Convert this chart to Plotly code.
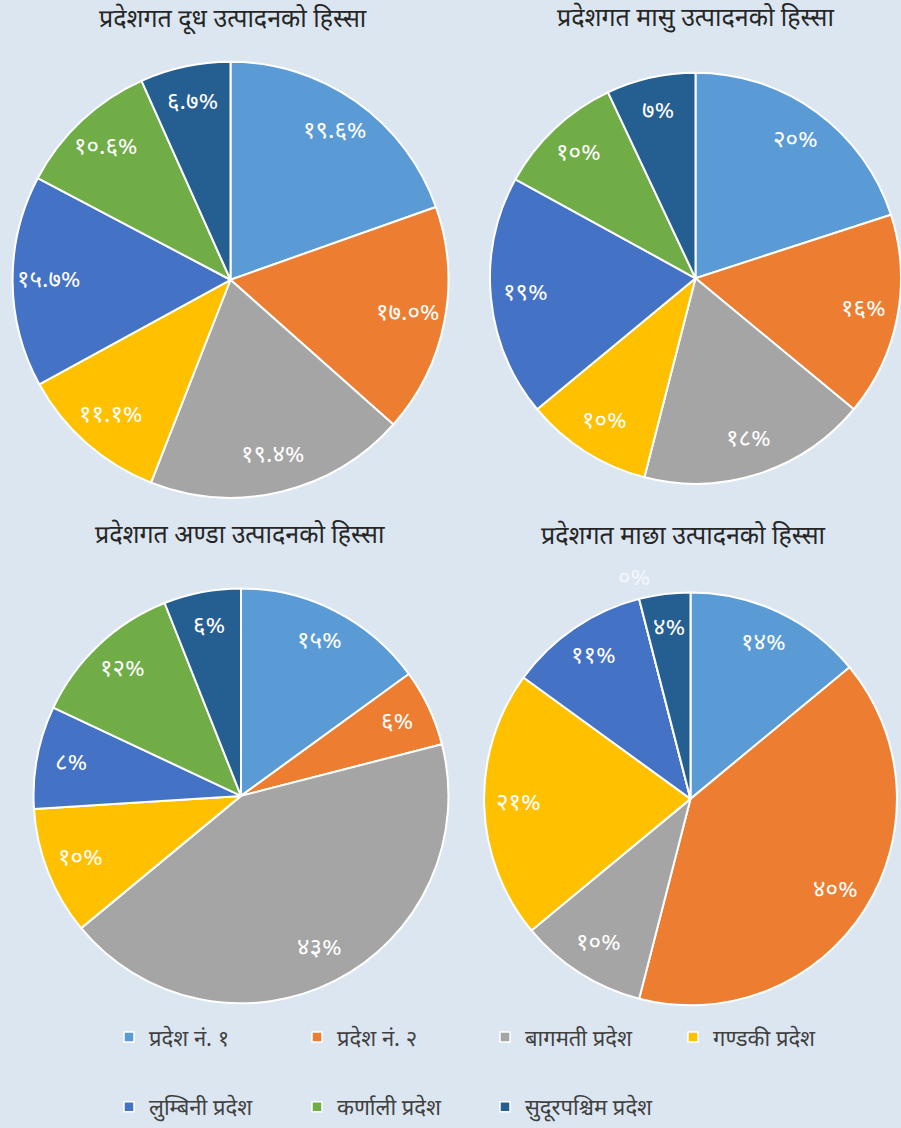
import math
import plotly.graph_objects as go

W, H = 901, 1128
BG = "#dce6f1"

regions = ["प्रदेश नं. १", "प्रदेश नं. २", "बागमती प्रदेश", "गण्डकी प्रदेश",
           "लुम्बिनी प्रदेश", "कर्णाली प्रदेश", "सुदूरपश्चिम प्रदेश"]
colors = ["#5b9bd5", "#ed7d31", "#a5a5a5", "#ffc000", "#4472c4", "#70ad47", "#255e91"]

titles = ["प्रदेशगत दूध उत्पादनको हिस्सा", "प्रदेशगत मासु उत्पादनको हिस्सा",
          "प्रदेशगत अण्डा उत्पादनको हिस्सा", "प्रदेशगत माछा उत्पादनको हिस्सा"]
milk = [19.6, 17.0, 19.4, 11.1, 15.7, 10.6, 6.7]
meat = [20, 16, 18, 10, 19, 10, 7]
egg = [15, 6, 43, 10, 8, 12, 6]
fish = [14, 40, 10, 21, 11, 0, 4]
decimals = [1, 0, 0, 0]

DEV = str.maketrans("0123456789", "०१२३४५६७८९")

def dev_label(v, d):
    return f"{v:.{d}f}%".translate(DEV)

FONT = "Noto Sans Devanagari, Noto Sans, sans-serif"

# pie boxes in pixels: (x0, x1, y0, y1)
boxes = [(12, 449, 62, 499), (490, 901, 70, 488), (33, 449, 590, 1006), (483, 898, 594, 1008)]
title_pos = [(233, 20), (695, 19), (240, 537), (683, 538)]
LABEL_R = 0.83
ZERO_R = 1.1

fig = go.Figure()
for i, vals in enumerate([milk, meat, egg, fish]):
    x0, x1, y0, y1 = boxes[i]
    fig.add_trace(go.Pie(
        labels=regions, values=vals, sort=False, direction="clockwise", rotation=0,
        marker=dict(colors=colors, line=dict(color="white", width=2)),
        textinfo="none",
        domain=dict(x=[x0 / W, x1 / W], y=[1 - y1 / H, 1 - y0 / H]),
        showlegend=False, hoverinfo="label+value",
    ))
    # data labels along each slice bisector (Excel-like placement)
    cx, cy = (x0 + x1) / 2, (y0 + y1) / 2
    r = min(x1 - x0, y1 - y0) / 2
    total = sum(vals)
    cum = 0.0
    for v in vals:
        theta = 2 * math.pi * (cum + v / 2) / total
        k = ZERO_R if v == 0 else LABEL_R
        px = cx + k * r * math.sin(theta)
        py = cy - k * r * math.cos(theta)
        fig.add_annotation(text=dev_label(v, decimals[i]), x=px / W, y=1 - py / H,
                           xref="paper", yref="paper", showarrow=False,
                           xanchor="center", yanchor="middle",
                           font=dict(size=24, color="white" if v else "#f4f6fa", family=FONT))
        cum += v
    tx, ty = title_pos[i]
    fig.add_annotation(text=titles[i], x=tx / W, y=1 - ty / H, xref="paper", yref="paper",
                       showarrow=False, xanchor="center", yanchor="middle",
                       font=dict(size=25, color="#262626", family=FONT))

for j, (name, col) in enumerate(zip(regions, colors)):
    fig.add_trace(go.Scatter(
        x=[None], y=[None], mode="markers", name=name,
        marker=dict(symbol="square", size=10, color=col, line=dict(color="white", width=1.5)),
        legend="legend" if j < 4 else "legend2",
    ))

legend_common = dict(orientation="h", entrywidth=143, entrywidthmode="pixels",
                     font=dict(size=22, color="#404040", family=FONT),
                     bgcolor="rgba(0,0,0,0)", itemwidth=30, xanchor="left", yanchor="middle")

fig.update_layout(
    width=W, height=H, margin=dict(l=0, r=0, t=0, b=0),
    paper_bgcolor=BG, plot_bgcolor=BG,
    xaxis=dict(visible=False), yaxis=dict(visible=False),
    legend=dict(x=109 / W, y=1 - 1040 / H, **legend_common),
    legend2=dict(x=109 / W, y=1 - 1110 / H, **legend_common),
)

fig.write_html("out.html", config={"displayModeBar": False},
               post_script="document.body.style.margin='0px';document.body.style.background='%s';" % BG)
